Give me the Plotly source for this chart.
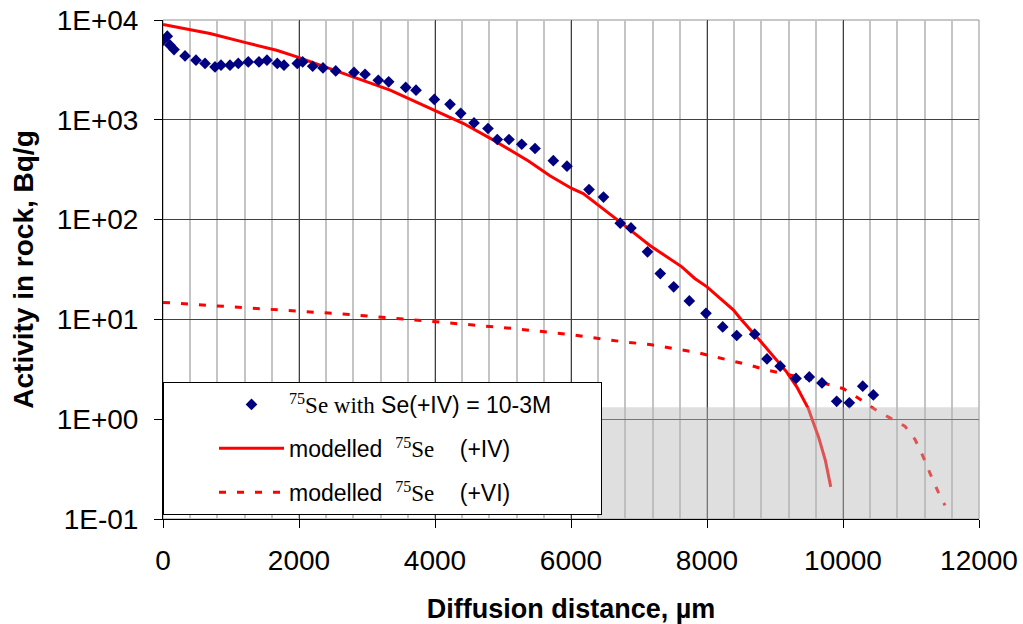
import plotly.graph_objects as go

# ---- data ----
obs_x = [4, 63, 103, 162, 324, 485, 618, 765, 853, 985, 1107, 1254, 1412, 1529, 1681,
         1779, 1975, 2054, 2201, 2353, 2540, 2809, 2971, 3166, 3319, 3569, 3721, 3990,
         4221, 4378, 4574, 4779, 4916, 5088, 5275, 5471, 5740, 5941, 6265, 6478, 6724,
         6882, 7125, 7313, 7510, 7740, 7985, 8231, 8437, 8701, 8882, 9076, 9309, 9504,
         9691, 9907, 10093, 10290, 10446]
obs_y = [6280, 6880, 5590, 5060, 4370, 3960, 3670, 3390, 3530, 3530, 3670, 3800, 3800,
         3960, 3670, 3530, 3670, 3800, 3440, 3310, 3090, 2980, 2860, 2490, 2400, 2110,
         1980, 1600, 1430, 1160, 931, 818, 635, 635, 569, 516, 389, 343, 200, 168, 92,
         82.6, 47.5, 28.8, 21.2, 15.3, 11.5, 8.41, 6.90, 7.11, 4.02, 3.40, 2.56, 2.65,
         2.31, 1.51, 1.46, 2.14, 1.75]

mod4_x = [0, 250, 690, 1230, 1670, 1970, 2460, 3000, 3340, 4000, 4420, 4860, 5100, 5380,
          5690, 6010, 6180, 6430, 6720, 7160, 7630, 7820, 8000, 8390, 8490, 8800, 9070,
          9170, 9320, 9490, 9560, 9640, 9740, 9820]
mod4_y = [9020, 8410, 7320, 5900, 4980, 4270, 3270, 2400, 1980, 1250, 918, 625, 500, 385,
          275, 205, 182, 135, 95, 55, 33.6, 25.7, 21.2, 12.4, 10.2, 5.9, 3.6,
          2.98, 2.11, 1.28, 0.94, 0.665, 0.388, 0.21]

mod6_x = [0, 590, 1130, 1920, 2750, 3530, 4070, 4610, 5150, 5990, 6770, 7160, 7850, 8630,
          8880, 9470, 10000, 10200, 10450, 10690, 10910, 11060, 11180, 11280, 11400, 11500]
mod6_y = [14.8, 13.9, 13.3, 12.2, 11.2, 10.1, 9.44, 8.81, 8.11, 7.06, 5.96, 5.60, 4.66,
          3.48, 3.10, 2.56, 2.03, 1.67, 1.28, 1.03, 0.851, 0.626, 0.419, 0.286, 0.187,
          0.137]

y_tickvals = [0.1, 1, 10, 100, 1000, 10000]
y_ticktext = ["1E-01", "1E+00", "1E+01", "1E+02", "1E+03", "1E+04"]
x_tickvals = [0, 2000, 4000, 6000, 8000, 10000, 12000]
x_ticktext = ["0", "2000", "4000", "6000", "8000", "10000", "12000"]

shade_x = [6400, 12000]
shade_y = [0.1, 1.32]

SERIF = "'Liberation Serif', 'Times New Roman', serif"
SANS = "'Liberation Sans', Arial, sans-serif"
NB = "\u00a0"

name_obs = (f'<span style="font-family:{SERIF}"><sup>75</sup>Se with</span>'
            f' Se(+IV) = 10-3M{NB*7}')
name_iv = (f'modelled{NB}{NB}<span style="font-family:{SERIF}"><sup>75</sup>Se</span>'
           f'{NB*4}(+IV)')
name_vi = (f'modelled{NB}{NB}<span style="font-family:{SERIF}"><sup>75</sup>Se</span>'
           f'{NB*4}(+VI)')

fig = go.Figure()
fig.add_trace(go.Scatter(
    x=mod4_x, y=mod4_y, mode="lines", name=name_iv, legendrank=2, legendgroup="b",
    line=dict(color="#ff0000", width=3)))
fig.add_trace(go.Scatter(
    x=mod6_x, y=mod6_y, mode="lines", name=name_vi, legendrank=3, legendgroup="c",
    line=dict(color="#ff0000", width=3, dash="7px,11px")))
fig.add_trace(go.Scatter(
    x=obs_x, y=obs_y, mode="markers", name=name_obs, legendrank=1, legendgroup="a",
    marker=dict(symbol="diamond", color="#000080", size=9, line=dict(width=0))))

fig.add_shape(type="rect", xref="x", yref="y",
              x0=shade_x[0], x1=shade_x[1], y0=shade_y[0], y1=shade_y[1],
              fillcolor="rgba(185,185,185,0.45)", line=dict(width=0), layer="above")
# plot frame (top/right in gray)
fig.add_shape(type="rect", xref="paper", yref="paper", x0=0, x1=1, y0=0, y1=1,
              line=dict(color="#909090", width=1), layer="below")

fig.update_xaxes(
    range=[0, 12000], tickvals=x_tickvals, ticktext=x_ticktext,
    ticks="outside", ticklen=8, tickcolor="black",
    showline=True, linecolor="black", linewidth=1,
    showgrid=True, gridcolor="#404040", gridwidth=1,
    minor=dict(dtick=400, tick0=0, showgrid=True, gridcolor="#c4c4c4", gridwidth=1.5),
    tickfont=dict(family=SANS, size=28, color="black"), ticklabelstandoff=8,
    zeroline=False, automargin=False,
    title=dict(text="<b>Diffusion distance, µm</b>", font=dict(family=SANS, size=27, color="black"),
               standoff=28))
fig.update_yaxes(
    type="log", range=[-1, 4], tickvals=y_tickvals, ticktext=y_ticktext,
    ticks="outside", ticklen=8, tickcolor="black",
    showline=True, linecolor="black", linewidth=1,
    showgrid=True, gridcolor="#404040", gridwidth=1,
    tickfont=dict(family=SANS, size=28, color="black"), ticklabelstandoff=10,
    zeroline=False, automargin=False,
    title=dict(text="<b>Activity in rock, Bq/g</b>", font=dict(family=SANS, size=28, color="black"),
               standoff=14))

fig.update_layout(
    width=1023, height=624,
    margin=dict(l=163, r=44, t=20, b=105),
    paper_bgcolor="white", plot_bgcolor="white",
    font=dict(family=SANS, color="black"),
    showlegend=True,
    legend=dict(x=0, y=0.008, xanchor="left", yanchor="bottom",
                bgcolor="white", bordercolor="black", borderwidth=1,
                font=dict(family=SANS, size=23, color="black"),
                itemwidth=65, indentation=50, tracegroupgap=11,
                traceorder="grouped"),
)

fig.write_html("out.html", config={"displayModeBar": False},
               post_script="document.body.style.margin='0px';document.body.style.overflow='hidden';")
